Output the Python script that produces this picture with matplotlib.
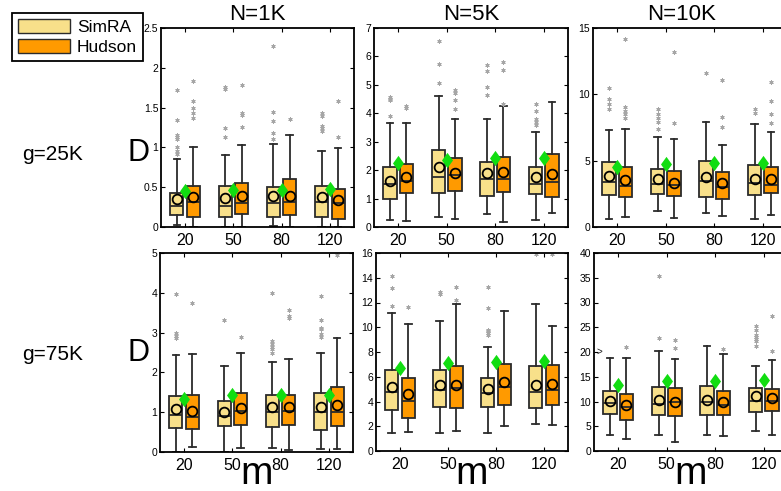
import matplotlib
matplotlib.use("Agg")
import matplotlib.pyplot as plt
from matplotlib.patches import Patch
from matplotlib.ticker import FuncFormatter, MultipleLocator

plt.rcParams['font.family'] = ['Liberation Sans', 'DejaVu Sans']

# ---------------------------------------------------------------- data
m_values = [20, 50, 80, 120]
n_labels = ["N=1K", "N=5K", "N=10K"]
g_labels = ["g=25K", "g=75K"]
series_names = ["SimRA", "Hudson"]

# g=25K, N=1K
simra_1k_25k_lo = [0.02, 0.00, 0.01, 0.00]
simra_1k_25k_q1 = [0.15, 0.12, 0.13, 0.12]
simra_1k_25k_med = [0.27, 0.26, 0.30, 0.31]
simra_1k_25k_q3 = [0.43, 0.52, 0.50, 0.52]
simra_1k_25k_hi = [0.86, 0.90, 1.04, 0.95]
simra_1k_25k_mean = [0.35, 0.36, 0.39, 0.38]
simra_1k_25k_out = [[0.92, 0.95, 1.01, 1.10, 1.13, 1.15, 1.35, 1.72],
                    [1.13, 1.24, 1.73, 1.76],
                    [1.10, 1.18, 1.33, 1.45, 2.28],
                    [1.21, 1.24, 1.27, 1.39, 1.43]]
hudson_1k_25k_lo = [0.00, 0.00, 0.00, 0.00]
hudson_1k_25k_q1 = [0.12, 0.16, 0.15, 0.10]
hudson_1k_25k_med = [0.31, 0.30, 0.32, 0.30]
hudson_1k_25k_q3 = [0.52, 0.55, 0.60, 0.48]
hudson_1k_25k_hi = [1.01, 1.03, 1.16, 0.99]
hudson_1k_25k_mean = [0.38, 0.39, 0.39, 0.34]
hudson_1k_25k_out = [[1.37, 1.43, 1.49, 1.58, 1.84],
                     [1.26, 1.41, 1.43, 1.79],
                     [1.36],
                     [1.13, 1.58]]
target_1k_25k = [0.45, 0.47, 0.47, 0.48]

# g=25K, N=5K
simra_5k_25k_lo = [0.24, 0.35, 0.44, 0.26]
simra_5k_25k_q1 = [0.98, 1.20, 1.09, 1.16]
simra_5k_25k_med = [1.50, 1.77, 1.70, 1.53]
simra_5k_25k_q3 = [2.10, 2.72, 2.27, 2.10]
simra_5k_25k_hi = [3.66, 4.60, 3.80, 3.34]
simra_5k_25k_mean = [1.63, 2.11, 1.89, 1.75]
simra_5k_25k_out = [[3.90, 4.45, 4.52, 4.58],
                    [5.08, 5.73, 6.53],
                    [4.63, 4.92, 5.47, 5.70],
                    [3.60, 3.68, 3.81, 4.07, 4.34]]
hudson_5k_25k_lo = [0.21, 0.28, 0.18, 0.51]
hudson_5k_25k_q1 = [1.20, 1.28, 1.22, 1.06]
hudson_5k_25k_med = [1.61, 1.82, 1.70, 1.57]
hudson_5k_25k_q3 = [2.20, 2.43, 2.47, 2.56]
hudson_5k_25k_hi = [3.66, 3.81, 4.25, 4.40]
hudson_5k_25k_mean = [1.75, 1.89, 1.92, 1.85]
hudson_5k_25k_out = [[4.19, 4.27],
                     [4.16, 4.45, 4.70, 4.82],
                     [4.31, 5.51, 5.81],
                     []]
target_5k_25k = [2.24, 2.36, 2.42, 2.44]

# g=25K, N=10K
simra_10k_25k_lo = [0.61, 1.22, 1.09, 0.61]
simra_10k_25k_q1 = [2.43, 2.51, 2.25, 2.38]
simra_10k_25k_med = [3.37, 3.24, 3.49, 3.34]
simra_10k_25k_q3 = [4.89, 4.35, 5.01, 4.68]
simra_10k_25k_hi = [7.29, 6.78, 7.92, 7.80]
simra_10k_25k_mean = [3.85, 3.59, 3.80, 3.65]
simra_10k_25k_out = [[8.91, 9.24, 9.62, 10.5],
                     [7.39, 7.90, 8.18, 8.48, 8.91],
                     [11.59],
                     [8.56, 8.91]]
hudson_10k_25k_lo = [0.76, 0.71, 0.86, 0.94]
hudson_10k_25k_q1 = [2.23, 2.33, 2.10, 2.53]
hudson_10k_25k_med = [3.09, 3.16, 2.99, 3.16]
hudson_10k_25k_q3 = [4.51, 4.23, 4.13, 4.51]
hudson_10k_25k_hi = [7.39, 6.66, 6.15, 7.16]
hudson_10k_25k_mean = [3.54, 3.34, 3.29, 3.59]
hudson_10k_25k_out = [[8.18, 8.48, 8.78, 9.06, 14.18],
                      [7.85, 13.16],
                      [7.54, 8.30, 11.09],
                      [7.85, 8.48, 9.49, 10.96]]
target_10k_25k = [4.53, 4.73, 4.81, 4.81]

# g=75K, N=1K
simra_1k_75k_lo = [0.00, 0.00, 0.11, 0.07]
simra_1k_75k_q1 = [0.61, 0.65, 0.63, 0.56]
simra_1k_75k_med = [0.94, 0.90, 1.00, 1.00]
simra_1k_75k_q3 = [1.40, 1.29, 1.44, 1.48]
simra_1k_75k_hi = [2.44, 2.17, 2.25, 2.48]
simra_1k_75k_mean = [1.08, 1.00, 1.13, 1.13]
simra_1k_75k_out = [[2.86, 2.92, 2.98, 3.96],
                    [3.32],
                    [2.50, 2.58, 2.65, 2.71, 2.79, 4.00],
                    [2.90, 2.96, 3.08, 3.12, 3.32, 3.93]]
hudson_1k_75k_lo = [0.13, 0.11, 0.06, 0.08]
hudson_1k_75k_q1 = [0.57, 0.68, 0.69, 0.65]
hudson_1k_75k_med = [0.88, 1.03, 1.04, 1.00]
hudson_1k_75k_q3 = [1.44, 1.48, 1.43, 1.63]
hudson_1k_75k_hi = [2.47, 2.50, 2.33, 2.86]
hudson_1k_75k_mean = [1.03, 1.11, 1.14, 1.18]
hudson_1k_75k_out = [[3.75],
                     [2.90],
                     [3.36, 3.42, 3.57],
                     [4.94]]
target_1k_75k = [1.33, 1.42, 1.43, 1.44]

# g=75K, N=5K
simra_5k_75k_lo = [1.44, 1.46, 1.49, 2.17]
simra_5k_75k_q1 = [3.33, 3.52, 3.58, 3.47]
simra_5k_75k_med = [4.80, 4.96, 4.66, 4.80]
simra_5k_75k_q3 = [6.56, 6.56, 5.91, 6.86]
simra_5k_75k_hi = [11.17, 10.51, 8.40, 11.87]
simra_5k_75k_mean = [5.20, 5.37, 5.01, 5.37]
simra_5k_75k_out = [[11.73, 13.14, 14.15],
                    [12.68, 12.87],
                    [9.35, 9.54, 9.70, 9.81, 11.52, 13.22],
                    [15.95]]
hudson_5k_75k_lo = [1.54, 1.60, 1.98, 2.09]
hudson_5k_75k_q1 = [2.63, 3.44, 3.74, 3.71]
hudson_5k_75k_med = [4.04, 5.07, 5.20, 4.96]
hudson_5k_75k_q3 = [5.91, 6.83, 7.05, 6.91]
hudson_5k_75k_hi = [10.24, 11.84, 11.33, 10.08]
hudson_5k_75k_mean = [4.61, 5.34, 5.58, 5.42]
hudson_5k_75k_out = [[11.60],
                     [12.20, 13.22],
                     [],
                     [15.90]]
target_5k_75k = [6.72, 7.10, 7.18, 7.24]

# g=75K, N=10K
simra_10k_75k_lo = [3.25, 3.25, 3.25, 4.07]
simra_10k_75k_q1 = [7.46, 7.25, 7.32, 7.93]
simra_10k_75k_med = [9.63, 9.49, 9.83, 10.03]
simra_10k_75k_q3 = [12.07, 12.88, 13.22, 12.68]
simra_10k_75k_hi = [18.78, 20.20, 21.15, 17.08]
simra_10k_75k_mean = [10.03, 10.37, 10.37, 11.05]
simra_10k_75k_out = [[],
                     [22.90, 35.40],
                     [],
                     [21.15, 22.17, 22.58, 23.05, 23.53, 24.41, 25.22]]
hudson_10k_75k_lo = [2.51, 1.90, 3.05, 3.25]
hudson_10k_75k_q1 = [6.31, 6.98, 7.32, 8.00]
hudson_10k_75k_med = [8.95, 9.97, 9.29, 10.03]
hudson_10k_75k_q3 = [11.53, 12.68, 12.20, 12.54]
hudson_10k_75k_hi = [18.78, 18.64, 19.53, 18.44]
hudson_10k_75k_mean = [9.36, 9.97, 9.97, 10.64]
hudson_10k_75k_out = [[21.00],
                      [20.88, 22.50],
                      [20.68],
                      [20.14, 27.25]]
target_10k_75k = [13.42, 14.10, 14.24, 14.37]

y_max = [[2.5, 7, 15], [5, 16, 40]]
y_step = [[0.5, 1, 5], [1, 2, 5]]

# ---------------------------------------------------------------- styling
SIMRA_COLOR = "#F8E08A"
HUDSON_COLOR = "#FF9A00"
EDGE = "#2b2b2b"
TARGET_COLOR = "#11DD11"
FLIER_COLOR = "#a6a6a6"

W, H = 781, 491
fig = plt.figure(figsize=(W / 100, H / 100), dpi=100)


def px_axes(left, top, right, bottom):
    return fig.add_axes([left / W, 1 - bottom / H, (right - left) / W, (bottom - top) / H])


axes_px = [[(161, 28, 354, 227), (374, 28, 568, 227), (593, 28, 787, 227)],
           [(160, 253, 353, 452), (376, 253, 568, 451), (594, 253, 788, 451)]]


def make_stats(lo, q1, med, q3, hi, mean, out):
    return [dict(whislo=a, q1=b, med=c, q3=d, whishi=e, mean=f, fliers=g)
            for a, b, c, d, e, f, g in zip(lo, q1, med, q3, hi, mean, out)]


panels = [
    [(make_stats(simra_1k_25k_lo, simra_1k_25k_q1, simra_1k_25k_med, simra_1k_25k_q3,
                 simra_1k_25k_hi, simra_1k_25k_mean, simra_1k_25k_out),
      make_stats(hudson_1k_25k_lo, hudson_1k_25k_q1, hudson_1k_25k_med, hudson_1k_25k_q3,
                 hudson_1k_25k_hi, hudson_1k_25k_mean, hudson_1k_25k_out),
      target_1k_25k),
     (make_stats(simra_5k_25k_lo, simra_5k_25k_q1, simra_5k_25k_med, simra_5k_25k_q3,
                 simra_5k_25k_hi, simra_5k_25k_mean, simra_5k_25k_out),
      make_stats(hudson_5k_25k_lo, hudson_5k_25k_q1, hudson_5k_25k_med, hudson_5k_25k_q3,
                 hudson_5k_25k_hi, hudson_5k_25k_mean, hudson_5k_25k_out),
      target_5k_25k),
     (make_stats(simra_10k_25k_lo, simra_10k_25k_q1, simra_10k_25k_med, simra_10k_25k_q3,
                 simra_10k_25k_hi, simra_10k_25k_mean, simra_10k_25k_out),
      make_stats(hudson_10k_25k_lo, hudson_10k_25k_q1, hudson_10k_25k_med, hudson_10k_25k_q3,
                 hudson_10k_25k_hi, hudson_10k_25k_mean, hudson_10k_25k_out),
      target_10k_25k)],
    [(make_stats(simra_1k_75k_lo, simra_1k_75k_q1, simra_1k_75k_med, simra_1k_75k_q3,
                 simra_1k_75k_hi, simra_1k_75k_mean, simra_1k_75k_out),
      make_stats(hudson_1k_75k_lo, hudson_1k_75k_q1, hudson_1k_75k_med, hudson_1k_75k_q3,
                 hudson_1k_75k_hi, hudson_1k_75k_mean, hudson_1k_75k_out),
      target_1k_75k),
     (make_stats(simra_5k_75k_lo, simra_5k_75k_q1, simra_5k_75k_med, simra_5k_75k_q3,
                 simra_5k_75k_hi, simra_5k_75k_mean, simra_5k_75k_out),
      make_stats(hudson_5k_75k_lo, hudson_5k_75k_q1, hudson_5k_75k_med, hudson_5k_75k_q3,
                 hudson_5k_75k_hi, hudson_5k_75k_mean, hudson_5k_75k_out),
      target_5k_75k),
     (make_stats(simra_10k_75k_lo, simra_10k_75k_q1, simra_10k_75k_med, simra_10k_75k_q3,
                 simra_10k_75k_hi, simra_10k_75k_mean, simra_10k_75k_out),
      make_stats(hudson_10k_75k_lo, hudson_10k_75k_q1, hudson_10k_75k_med, hudson_10k_75k_q3,
                 hudson_10k_75k_hi, hudson_10k_75k_mean, hudson_10k_75k_out),
      target_10k_75k)],
]

centers = list(range(1, len(m_values) + 1))
offset = 0.17
box_w = 0.27
diamond = [(0, 1), (0.72, 0), (0, -1), (-0.72, 0), (0, 1)]
asterisk = (6, 2, 0)
fmt = FuncFormatter(lambda v, _: f"{v:g}")

for r in range(2):
    for c in range(3):
        ax = px_axes(*axes_px[r][c])
        s_stats, h_stats, target = panels[r][c]
        for stats, sign, color in ((s_stats, -1, SIMRA_COLOR), (h_stats, 1, HUDSON_COLOR)):
            ax.bxp(stats, positions=[p + sign * offset for p in centers], widths=box_w,
                   patch_artist=True, showmeans=True, manage_ticks=False, capwidths=0.14,
                   boxprops=dict(facecolor=color, edgecolor=EDGE, linewidth=1.3),
                   medianprops=dict(color=EDGE, linewidth=1.3),
                   whiskerprops=dict(color=EDGE, linewidth=1.3, linestyle="-"),
                   capprops=dict(color=EDGE, linewidth=1.3),
                   meanprops=dict(marker="o", markerfacecolor="none", markeredgecolor="black",
                                  markersize=7, markeredgewidth=1.3),
                   flierprops=dict(marker=asterisk, markeredgecolor=FLIER_COLOR,
                                   markersize=3, markeredgewidth=0.7, linestyle="none"))
        ax.plot(centers, target, linestyle="none", marker=diamond, markersize=11,
                color=TARGET_COLOR, markeredgecolor="none", zorder=5)
        ax.set_xlim(0.5, len(m_values) + 0.5)
        ax.set_ylim(0, y_max[r][c])
        ax.yaxis.set_major_locator(MultipleLocator(y_step[r][c]))
        ax.yaxis.set_major_formatter(fmt)
        ax.set_xticks(centers)
        ax.set_xticklabels([str(m) for m in m_values])
        ax.tick_params(direction="in", length=3, width=0.8, top=True, right=True)
        ax.tick_params(axis="x", labelsize=11.5, pad=4)
        ax.tick_params(axis="y", labelsize=7.5, pad=2)
        for sp in ax.spines.values():
            sp.set_linewidth(1.3)
        if r == 1 and c == 2:
            ax.text(0.62, 20, ">", fontsize=7, ha="center", va="center", color="#222222")

# column titles, row labels, axis labels
title_x = [(p[0] + p[2]) / 2 for p in axes_px[0]]
title_x[2] = 682
for x, t in zip(title_x, n_labels):
    fig.text(x / W, 1 - 15 / H, t, fontsize=16, ha="center", va="center")
for y, t in zip([155, 355], g_labels):
    fig.text(53 / W, 1 - y / H, t, fontsize=15, ha="center", va="center")
    fig.text(138 / W, 1 - (y - 2) / H, "D", fontsize=22, ha="center", va="center")
for p in axes_px[1]:
    cx = (p[0] + min(p[2], 787)) / 2
    fig.text(cx / W, 1 - 484 / H, "m", fontsize=28, ha="center", va="baseline")

handles = [Patch(facecolor=SIMRA_COLOR, edgecolor=EDGE, linewidth=1.0),
           Patch(facecolor=HUDSON_COLOR, edgecolor=EDGE, linewidth=1.0)]
leg = fig.legend(handles, series_names, loc="upper left",
                 bbox_to_anchor=(12 / W, 1 - 13 / H), fontsize=12.5, fancybox=False,
                 framealpha=1, edgecolor="black", handlelength=3.0, handleheight=0.85,
                 borderpad=0.35, labelspacing=0.25, handletextpad=0.4, borderaxespad=0)
leg.get_frame().set_linewidth(1.3)

fig.savefig("out.png", dpi=100)
